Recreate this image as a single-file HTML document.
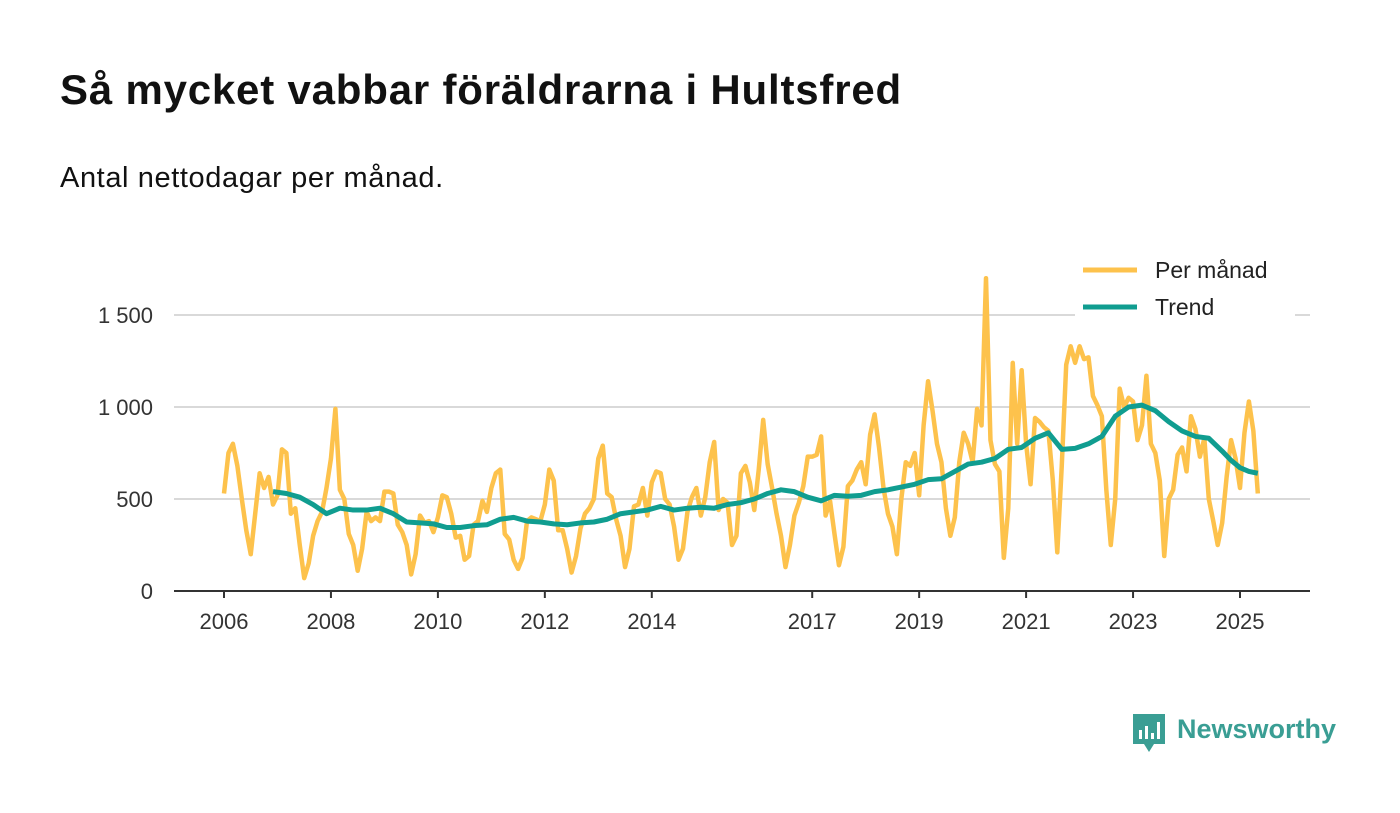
<!DOCTYPE html>
<html><head><meta charset="utf-8"><style>
body{margin:0;background:#fff;font-family:"Liberation Sans","DejaVu Sans",sans-serif}
#w{position:relative;width:1400px;height:813px;overflow:hidden}
h1{position:absolute;left:60px;top:66px;margin:0;font-size:42px;font-weight:bold;color:#111;letter-spacing:0.8px}
.sub{position:absolute;left:60px;top:162px;font-size:29px;color:#111;letter-spacing:0.6px}
</style></head><body><div id="w">
<h1>Så mycket vabbar föräldrarna i Hultsfred</h1>
<div class="sub">Antal nettodagar per månad.</div>
<svg id="c" width="1400" height="813" style="position:absolute;left:0;top:0"></svg>
</div>
<script>
const monthly=[530,750,800,680,500,330,200,420,640,560,620,470,
520,770,750,420,450,250,70,150,300,380,430,560,
720,990,550,500,310,250,110,230,430,380,400,380,
540,540,530,360,320,250,90,200,410,370,380,320,
400,520,510,420,290,300,170,190,360,380,490,430,
560,640,660,310,280,170,120,180,380,400,390,380,
470,660,600,330,330,230,100,190,340,420,450,500,
720,790,530,510,390,300,130,230,460,470,560,410,
590,650,640,500,470,350,170,230,430,510,560,410,
510,700,810,440,500,480,250,300,640,680,590,440,
660,930,690,560,420,300,130,250,410,480,570,730,
730,740,840,410,490,310,140,240,570,600,660,700,
580,850,960,780,560,420,350,200,500,700,680,750,
520,900,1140,980,800,700,450,300,400,700,860,800,
700,990,900,1700,820,690,650,180,450,1240,800,1200,
800,580,940,920,890,870,600,210,680,1230,1330,1240,
1330,1260,1270,1060,1010,950,550,250,500,1100,1000,1050,
1030,820,900,1170,800,750,600,190,500,550,740,780,
650,950,880,730,830,500,380,250,370,620,820,720,
560,860,1030,870,530];
const trendMonths=[11,14,17,20,23,26,29,32,35,38,41,44,47,50,53,56,59,62,65,68,71,74,77,80,83,86,89,92,95,98,101,104,107,110,113,116,119,122,125,128,131,134,137,140,143,146,149,152,155,158,161,164,167,170,173,176,179,182,185,188,191,194,197,200,203,206,209,212,215,218,221,224,226,228,230,232];
const trendValues=[540,530,510,470,420,450,440,440,450,420,375,370,365,345,345,355,360,390,400,380,375,365,360,370,375,390,420,430,440,460,440,450,455,450,470,480,500,530,550,540,510,490,520,515,520,540,550,565,580,605,610,650,690,700,720,770,780,830,860,770,775,800,840,950,1000,1010,980,920,870,840,830,760,710,670,650,640];
const yTicks=[0,500,1000,1500];
const yTickLabels=["0","500","1 000","1 500"];
const xTickYears=[2006,2008,2010,2012,2014,2017,2019,2021,2023,2025];
const NS='http://www.w3.org/2000/svg';
const svg=document.getElementById('c');
const X=m=>224+m*(1016/228);
const Y=v=>591-v*0.184;
function mk(t,a){const e=document.createElementNS(NS,t);for(const k in a)e.setAttribute(k,a[k]);svg.appendChild(e);return e;}
yTicks.forEach((v,i)=>{
 if(v>0){const g=mk('line',{x1:174,x2:1310,y1:Y(v),y2:Y(v),stroke:'#d9d9d9','stroke-width':2});
 
 }
 const t=mk('text',{x:153,y:Y(v)+8,'text-anchor':'end','font-size':22,fill:'#333','font-family':'Liberation Sans, sans-serif'});
 t.textContent=yTickLabels[i];
 
 
});
const ax=mk('line',{x1:174,x2:1310,y1:591,y2:591,stroke:'#333','stroke-width':2});


xTickYears.forEach(yr=>{
 const x=X((yr-2006)*12);
 const tk=mk('line',{x1:x,x2:x,y1:591,y2:598,stroke:'#333','stroke-width':2});
 
 
 const t=mk('text',{x:x,y:629,'text-anchor':'middle','font-size':22,fill:'#333','font-family':'Liberation Sans, sans-serif'});
 t.textContent=yr;
 
 
});
const p1=mk('polyline',{points:monthly.map((v,i)=>X(i)+','+Y(v)).join(' '),fill:'none',stroke:'#fdc24c','stroke-width':4.5,'stroke-linejoin':'round'});


const p2=mk('polyline',{points:trendValues.map((v,i)=>X(trendMonths[i])+','+Y(v)).join(' '),fill:'none',stroke:'#109d90','stroke-width':5,'stroke-linejoin':'round'});


const lb=mk('rect',{x:1075,y:250,width:220,height:75,fill:'#fff'});


[['Per månad','#fdc24c',270],['Trend','#109d90',307]].forEach(([n,c,y])=>{
 const l=mk('line',{x1:1083,x2:1137,y1:y,y2:y,stroke:c,'stroke-width':5});
 
 
 const t=mk('text',{x:1155,y:y+8,'font-size':23,fill:'#222','font-family':'Liberation Sans, sans-serif'});
 t.textContent=n;
 
 
});
const lg=mk('path',{d:'M1133 714h32v30h-11l-5 8-5-8h-11z',fill:'#3a9e94'});


[[1139,730],[1145,726],[1151,733],[1157,722]].forEach(([x,y])=>{const b=mk('rect',{x:x,y:y,width:3,height:739-y,fill:'#fff'});});
const lt=mk('text',{x:1177,y:738,'font-size':27,'font-weight':'bold',fill:'#3a9e94','font-family':'Liberation Sans, sans-serif'});
lt.textContent='Newsworthy';


</script></body></html>
